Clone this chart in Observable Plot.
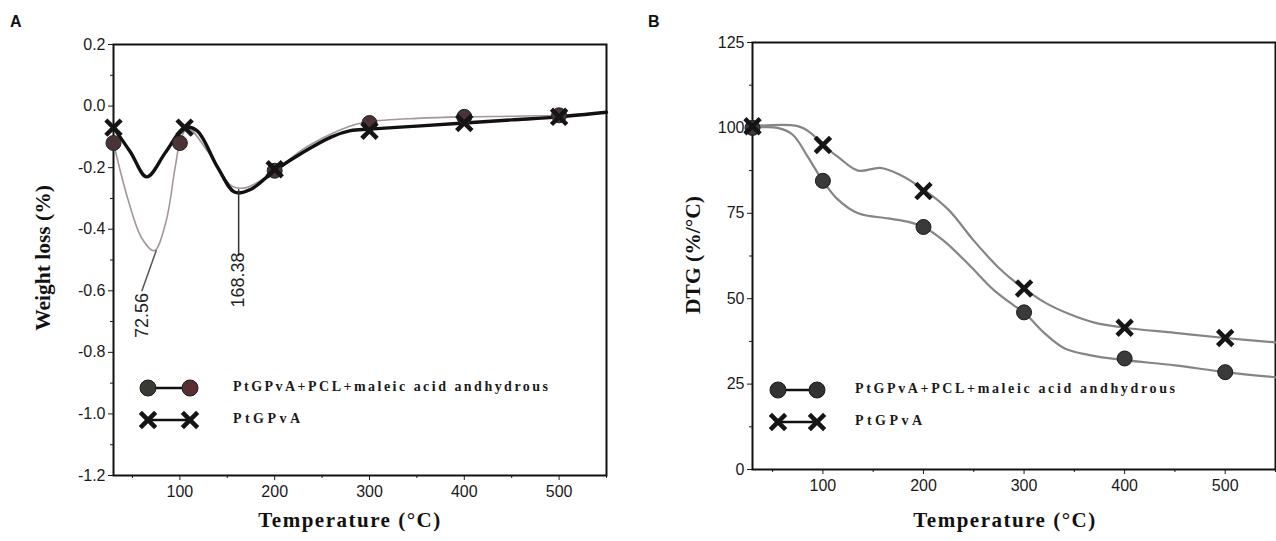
<!DOCTYPE html>
<html><head><meta charset="utf-8">
<script src="https://cdn.jsdelivr.net/npm/d3@7"></script>
<script src="https://cdn.jsdelivr.net/npm/@observablehq/plot@0.6"></script>
<style>
body{margin:0;background:#fff}
#wrap{position:relative;width:1276px;height:541px;overflow:hidden;background:#fff}
#wrap svg{position:absolute;top:0}
</style>
</head><body><div id="wrap"></div>
<script>
// ---------- shared ----------
const xDomain = [30, 550];
const xTicks = [100, 200, 300, 400, 500];
const xMinor = [50, 150, 250, 350, 450, 550];
const seriesNames = ["PtGPvA+PCL+maleic acid andhydrous", "PtGPvA"];

// ---------- Panel A : Weight loss ----------
const aYTicks = [0.2, 0.0, -0.2, -0.4, -0.6, -0.8, -1.0, -1.2];
const aYMinor = [0.1, -0.1, -0.3, -0.5, -0.7, -0.9, -1.1];
const aCircleT = [30, 100, 200, 300, 400, 500];
const aCircleV = [-0.12, -0.12, -0.21, -0.055, -0.035, -0.03];
const aCrossT = [30, 105, 200, 300, 400, 500];
const aCrossV = [-0.07, -0.07, -0.205, -0.08, -0.055, -0.035];
const aCircleLineT = [30, 45, 60, 73, 85, 95, 100, 108, 130, 155, 170, 200, 230, 260, 285, 300, 350, 400, 450, 500, 550];
const aCircleLineV = [-0.12, -0.3, -0.43, -0.47, -0.38, -0.2, -0.12, -0.07, -0.15, -0.26, -0.265, -0.21, -0.14, -0.09, -0.06, -0.05, -0.04, -0.035, -0.033, -0.03, -0.02];
const aCrossLineT = [30, 48, 65, 85, 105, 118, 140, 158, 175, 200, 230, 260, 280, 300, 350, 400, 450, 500, 550];
const aCrossLineV = [-0.07, -0.15, -0.23, -0.15, -0.07, -0.08, -0.2, -0.28, -0.27, -0.21, -0.15, -0.1, -0.08, -0.075, -0.065, -0.055, -0.045, -0.035, -0.02];
const aPeakLabels = ["72.56", "168.38"];
const aPeakLabelT = [60, 162];
const aPeakLabelV = [-0.68, -0.565];
const aLeader1T = [75, 60], aLeader1V = [-0.47, -0.6];
const aLeader2T = [162, 162], aLeader2V = [-0.272, -0.485];

// ---------- Panel B : DTG ----------
const bYTicks = [0, 25, 50, 75, 100, 125];
const bYMinor = [12.5, 37.5, 62.5, 87.5, 112.5];
const bCircleT = [30, 100, 200, 300, 400, 500];
const bCircleV = [100, 84.5, 71, 46, 32.5, 28.5];
const bCrossT = [30, 100, 200, 300, 400, 500];
const bCrossV = [100.5, 95, 81.5, 53, 41.5, 38.5];
const bCircleLineT = [30, 55, 70, 85, 100, 115, 135, 165, 185, 200, 220, 245, 270, 290, 300, 320, 340, 365, 400, 450, 500, 550];
const bCircleLineV = [100, 100, 98, 91.5, 84.5, 79, 75, 73.5, 72.5, 71, 67, 60, 52.5, 48, 46, 40, 35.5, 33.5, 32, 30.5, 28.5, 27];
const bCrossLineT = [30, 75, 88, 100, 115, 135, 157, 175, 200, 225, 250, 275, 295, 300, 320, 345, 370, 400, 450, 500, 550];
const bCrossLineV = [100.5, 100.5, 98.5, 95, 91.5, 87.5, 88.3, 86.5, 82, 76, 67, 59, 54, 53, 49, 45.5, 43, 41.5, 40, 38.5, 37.2];

const zip = (T, V) => T.map((t, i) => ({t, v: V[i]}));

const tickFont = {fontFamily: "'Liberation Sans', Arial, sans-serif", fontSize: "16px", color: "#1a1a1a", background: "transparent", overflow: "visible"};

function axes(yTicks, yMinor, fmt) {
  return [
    Plot.axisX({ticks: xTicks, tickSize: 5, tickPadding: 5, label: null, tickFormat: d => String(d)}),
    Plot.axisX({ticks: xMinor, tickSize: 3, label: null, tickFormat: () => ""}),
    Plot.axisY({ticks: yTicks, tickSize: 5, tickPadding: 3, label: null, tickFormat: fmt}),
    Plot.axisY({ticks: yMinor, tickSize: 3, label: null, tickFormat: () => ""}),
    Plot.frame({stroke: "#111", strokeWidth: 2})
  ];
}

// ---- Plot A ----
const plotA = Plot.plot({
  width: 640, height: 541,
  marginLeft: 113, marginRight: 34, marginTop: 44, marginBottom: 66,
  x: {domain: xDomain},
  y: {domain: [-1.2, 0.2]},
  style: tickFont,
  marks: [
    ...axes(aYTicks, aYMinor, d => (Math.abs(d) < 1e-9 ? 0 : d).toFixed(1)),
    Plot.line(zip(aCircleLineT, aCircleLineV), {x: "t", y: "v", curve: "catmull-rom", stroke: "#a3959a", strokeWidth: 1.6}),
    Plot.line(zip(aCrossLineT, aCrossLineV), {x: "t", y: "v", curve: "catmull-rom", stroke: "#111", strokeWidth: 3.4}),
    Plot.line(zip(aLeader1T, aLeader1V), {x: "t", y: "v", stroke: "#555", strokeWidth: 1.5}),
    Plot.line(zip(aLeader2T, aLeader2V), {x: "t", y: "v", stroke: "#333", strokeWidth: 1.5}),
    Plot.text(aPeakLabels.map((s, i) => ({s, t: aPeakLabelT[i], v: aPeakLabelV[i]})), {x: "t", y: "v", text: "s", rotate: -90, fontSize: 18, fill: "#222"}),
    Plot.dot(zip(aCircleT, aCircleV), {x: "t", y: "v", r: 7.5, fill: "#4a3436", stroke: "#222", strokeWidth: 1}),
    Plot.dot(zip(aCrossT, aCrossV), {x: "t", y: "v", r: 7, symbol: "times", stroke: "#151515", strokeWidth: 4.5})
  ]
});
plotA.style.left = "0px";

// ---- Plot B ----
const plotB = Plot.plot({
  width: 636, height: 541,
  marginLeft: 112, marginRight: 1, marginTop: 42, marginBottom: 72,
  x: {domain: xDomain},
  y: {domain: [0, 125]},
  style: tickFont,
  marks: [
    ...axes(bYTicks, bYMinor, d => String(d)),
    Plot.line(zip(bCircleLineT, bCircleLineV), {x: "t", y: "v", curve: "catmull-rom", stroke: "#858585", strokeWidth: 2.2}),
    Plot.line(zip(bCrossLineT, bCrossLineV), {x: "t", y: "v", curve: "catmull-rom", stroke: "#858585", strokeWidth: 2.2}),
    Plot.dot(zip(bCircleT, bCircleV), {x: "t", y: "v", r: 7.5, fill: "#3a3a3a", stroke: "#1a1a1a", strokeWidth: 1}),
    Plot.dot(zip(bCrossT, bCrossV), {x: "t", y: "v", r: 7, symbol: "times", stroke: "#151515", strokeWidth: 4.5})
  ]
});
plotB.style.left = "640px";

const wrap = document.getElementById("wrap");
wrap.appendChild(plotA);
wrap.appendChild(plotB);

// ---------- decorations: titles, legends, panel letters ----------
function decorate(svg, o) {
  const s = d3.select(svg);
  const g = s.append("g").attr("text-anchor", "start");
  g.append("text").text(o.letter).attr("x", o.letterX).attr("y", 27)
    .attr("font-family", "'Liberation Sans', Arial, sans-serif").attr("font-weight", "bold").attr("font-size", 16).attr("fill", "#111");
  g.append("text").text(o.ytitle)
    .attr("transform", `translate(${o.ytitleX},${o.ytitleY}) rotate(-90)`)
    .attr("text-anchor", "middle").attr("dominant-baseline", "middle")
    .attr("font-family", "'Liberation Serif', 'Times New Roman', serif").attr("font-weight", "bold").attr("font-size", 21.5).attr("fill", "#111");
  g.append("text").text("Temperature (°C)")
    .attr("x", o.xtitleX).attr("y", 522).attr("text-anchor", "middle").attr("dominant-baseline", "middle")
    .attr("font-family", "'Liberation Serif', 'Times New Roman', serif").attr("font-weight", "bold").attr("font-size", 21)
    .attr("letter-spacing", 1.5).attr("fill", "#111");
  // legend
  const L = o.legend;
  const rows = [L.y1, L.y2];
  rows.forEach((yy, i) => {
    g.append("line").attr("x1", L.m1).attr("x2", L.m2).attr("y1", yy).attr("y2", yy).attr("stroke", "#111").attr("stroke-width", 2.5);
    [L.m1, L.m2].forEach((mx, j) => {
      if (i === 0) {
        g.append("circle").attr("cx", mx).attr("cy", yy).attr("r", 8)
          .attr("fill", j === 0 ? o.c1 : o.c2).attr("stroke", "#1a1a1a").attr("stroke-width", 1);
      } else {
        g.append("path").attr("d", d3.symbol(d3.symbolTimes, 7 * 7 * Math.PI)())
          .attr("transform", `translate(${mx},${yy})`).attr("stroke", "#151515").attr("stroke-width", 4.5).attr("fill", "none");
      }
    });
    g.append("text").text(seriesNames[i]).attr("x", L.tx).attr("y", yy).attr("dominant-baseline", "middle")
      .attr("text-anchor", "start")
      .attr("font-family", "'Liberation Serif', 'Times New Roman', serif").attr("font-weight", "bold").attr("font-size", 14)
      .attr("fill", "#1a1a1a").attr("textLength", i === 0 ? L.w1 : L.w2).attr("lengthAdjust", "spacing");
  });
}

decorate(plotA, {letter: "A", letterX: 10, ytitle: "Weight loss (%)", ytitleX: 45, ytitleY: 258, xtitleX: 350,
  c1: "#3a3a33", c2: "#5a2e30",
  legend: {y1: 388, y2: 420, m1: 148, m2: 190, tx: 233, w1: 315, w2: 67}});
decorate(plotB, {letter: "B", letterX: 8, ytitle: "DTG (%/°C)", ytitleX: 55, ytitleY: 255, xtitleX: 365,
  c1: "#333", c2: "#333",
  legend: {y1: 390, y2: 422, m1: 138, m2: 177, tx: 215, w1: 320, w2: 67}});
</script></body></html>
